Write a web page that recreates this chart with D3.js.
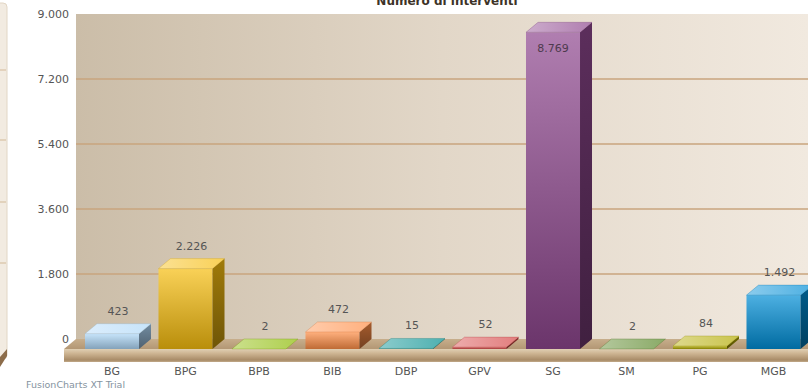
<!DOCTYPE html>
<html>
<head>
<meta charset="utf-8">
<script src="https://cdn.jsdelivr.net/npm/d3@7"></script>
<style>
body { margin: 0; background: #fff; }
svg { display: block; font-family: "DejaVu Sans", Verdana, sans-serif; }
</style>
</head>
<body>
<script>
var categories = ["BG", "BPG", "BPB", "BIB", "DBP", "GPV", "SG", "SM", "PG", "MGB"];
var values = [423, 2226, 2, 472, 15, 52, 8769, 2, 84, 1492];
var yTicks = [0, 1800, 3600, 5400, 7200, 9000];
var palette = ["#AFD8F8", "#F6BD0F", "#8BBA00", "#FF8E46", "#008E8E", "#D64646", "#8E468E", "#588526", "#B3AA00", "#008ED6"];
var title = "Numero di interventi";
var trialText = "FusionCharts XT Trial";

var width = 808, height = 390;
var dx = 12, dy = 10; // depth of the 3d look
var wallLeft = 76, wallTop = 14, wallBottom = 339;

var fmt = d3.formatLocale({ decimal: ",", thousands: ".", grouping: [3], currency: ["", "€"] }).format(",");

var svg = d3.select("body").append("svg").attr("width", width).attr("height", height);
var defs = svg.append("defs");

var y = d3.scaleLinear().domain([0, 9000]).range([wallBottom, wallTop]);
var x = d3.scaleBand().domain(categories).range([75.25, 810.25]).paddingInner(0.265).paddingOuter(0.1325);
var bw = x.bandwidth();

function grad(id, stops, vertical) {
  var g = defs.append("linearGradient").attr("id", id)
    .attr("x1", 0).attr("y1", 0).attr("x2", vertical ? 0 : 1).attr("y2", vertical ? 1 : 0);
  stops.forEach(function (s) {
    g.append("stop").attr("offset", s[0]).attr("stop-color", s[1]);
  });
}

// partial panel on the far left
svg.append("rect").attr("x", -14).attr("y", 3).attr("width", 21).attr("height", 356).attr("rx", 4)
  .attr("fill", "#f2ebe1").attr("stroke", "#e2d6c5");
[70, 140, 202, 263].forEach(function (yy) {
  svg.append("line").attr("x1", 0).attr("x2", 6).attr("y1", yy).attr("y2", yy)
    .attr("stroke", "#d8c2a4").attr("stroke-width", 1.2);
});
svg.append("polygon").attr("points", "0,357 7,349 7,356 0,367").attr("fill", "#8c6c4a");

// back wall
grad("wall", [[0, "#cbbda8"], [0.5, "#e2d7c8"], [1, "#f1e9df"]], false);
svg.append("rect").attr("x", wallLeft).attr("y", wallTop).attr("width", width - wallLeft).attr("height", wallBottom - wallTop)
  .attr("fill", "url(#wall)");

// grid lines
svg.append("g").selectAll("line")
  .data(yTicks.filter(function (d) { return d > 0 && d < 9000; }))
  .enter().append("line")
  .attr("x1", wallLeft).attr("x2", width)
  .attr("y1", function (d) { return y(d); }).attr("y2", function (d) { return y(d); })
  .attr("stroke", "#c8a47e").attr("stroke-width", 1.5);

// floor
grad("floorTop", [[0, "#c7ae8c"], [1, "#b39774"]], true);
grad("floorFront", [[0, "#e0cfb3"], [0.35, "#cdb492"], [0.85, "#a88b67"], [1, "#c2aa8a"]], true);
svg.append("polygon")
  .attr("points", [[wallLeft, wallBottom], [width + 20, wallBottom], [width + 20 - dx, wallBottom + dy], [wallLeft - dx, wallBottom + dy]].join(" "))
  .attr("fill", "url(#floorTop)");
svg.append("rect").attr("x", wallLeft - dx).attr("y", wallBottom + dy).attr("width", width).attr("height", 13)
  .attr("fill", "url(#floorFront)");

// y axis labels
var yAxis = svg.append("g").attr("transform", "translate(" + wallLeft + ",0)")
  .call(d3.axisLeft(y).tickValues(yTicks).tickFormat(fmt).tickSize(0).tickPadding(7));
yAxis.select(".domain").remove();
yAxis.selectAll("text").attr("font-size", 11).attr("fill", "#555").attr("font-family", "DejaVu Sans, Verdana, sans-serif");

// bars
var bars = svg.append("g").selectAll("g").data(categories).enter().append("g");
categories.forEach(function (c, i) {
  var col = palette[i];
  grad("front" + i, [[0, d3.interpolateRgb(col, "#fff")(0.3)], [1, d3.interpolateRgb(col, "#000")(0.25)]], true);
  grad("top" + i, [[0, d3.interpolateRgb(col, "#fff")(0.55)], [1, d3.interpolateRgb(col, "#fff")(0.3)]], false);
  grad("side" + i, [[0, d3.interpolateRgb(col, "#000")(0.35)], [1, d3.interpolateRgb(col, "#000")(0.55)]], true);
});

bars.each(function (c, i) {
  var g = d3.select(this);
  var x0 = x(c), x1 = x0 + bw;
  var base = wallBottom + dy;
  var yf = y(values[i]) + dy;
  g.append("rect").attr("x", x0).attr("y", yf).attr("width", bw).attr("height", base - yf)
    .attr("fill", "url(#front" + i + ")");
  g.append("polygon")
    .attr("points", [[x1, yf], [x1 + dx, yf - dy], [x1 + dx, base - dy], [x1, base]].join(" "))
    .attr("fill", "url(#side" + i + ")");
  g.append("polygon")
    .attr("points", [[x0, yf], [x1, yf], [x1 + dx, yf - dy], [x0 + dx, yf - dy]].join(" "))
    .attr("fill", "url(#top" + i + ")")
    .attr("stroke", d3.interpolateRgb(palette[i], "#000")(0.2)).attr("stroke-width", 0.5).attr("stroke-opacity", 0.6);

  // value label
  var topBack = yf - dy;
  var ly = topBack - 9;
  var lx = x0 + bw / 2 + dx / 2;
  var fill = "#555";
  if (ly - 10 < wallTop) {
    ly = yf + 20;
    lx = x0 + bw / 2;
    fill = "#4d3a4d";
  }
  g.append("text").attr("x", lx).attr("y", ly).attr("text-anchor", "middle")
    .attr("font-size", 11).attr("fill", fill).text(fmt(values[i]));
});

// category labels
var xAxis = svg.append("g").attr("transform", "translate(0," + (wallBottom + dy + 12) + ")")
  .call(d3.axisBottom(x).tickSize(0).tickPadding(6));
xAxis.select(".domain").remove();
xAxis.selectAll("text").attr("font-size", 11).attr("fill", "#555").attr("font-family", "DejaVu Sans, Verdana, sans-serif");

// title (cut at the top edge)
svg.append("text").attr("x", 447).attr("y", 5).attr("text-anchor", "middle")
  .attr("font-size", 12).attr("font-weight", "bold").attr("fill", "#3d3328").text(title);

svg.append("text").attr("x", 26).attr("y", 388).attr("font-size", 9.5).attr("fill", "#8593a0").text(trialText);
</script>
</body>
</html>
